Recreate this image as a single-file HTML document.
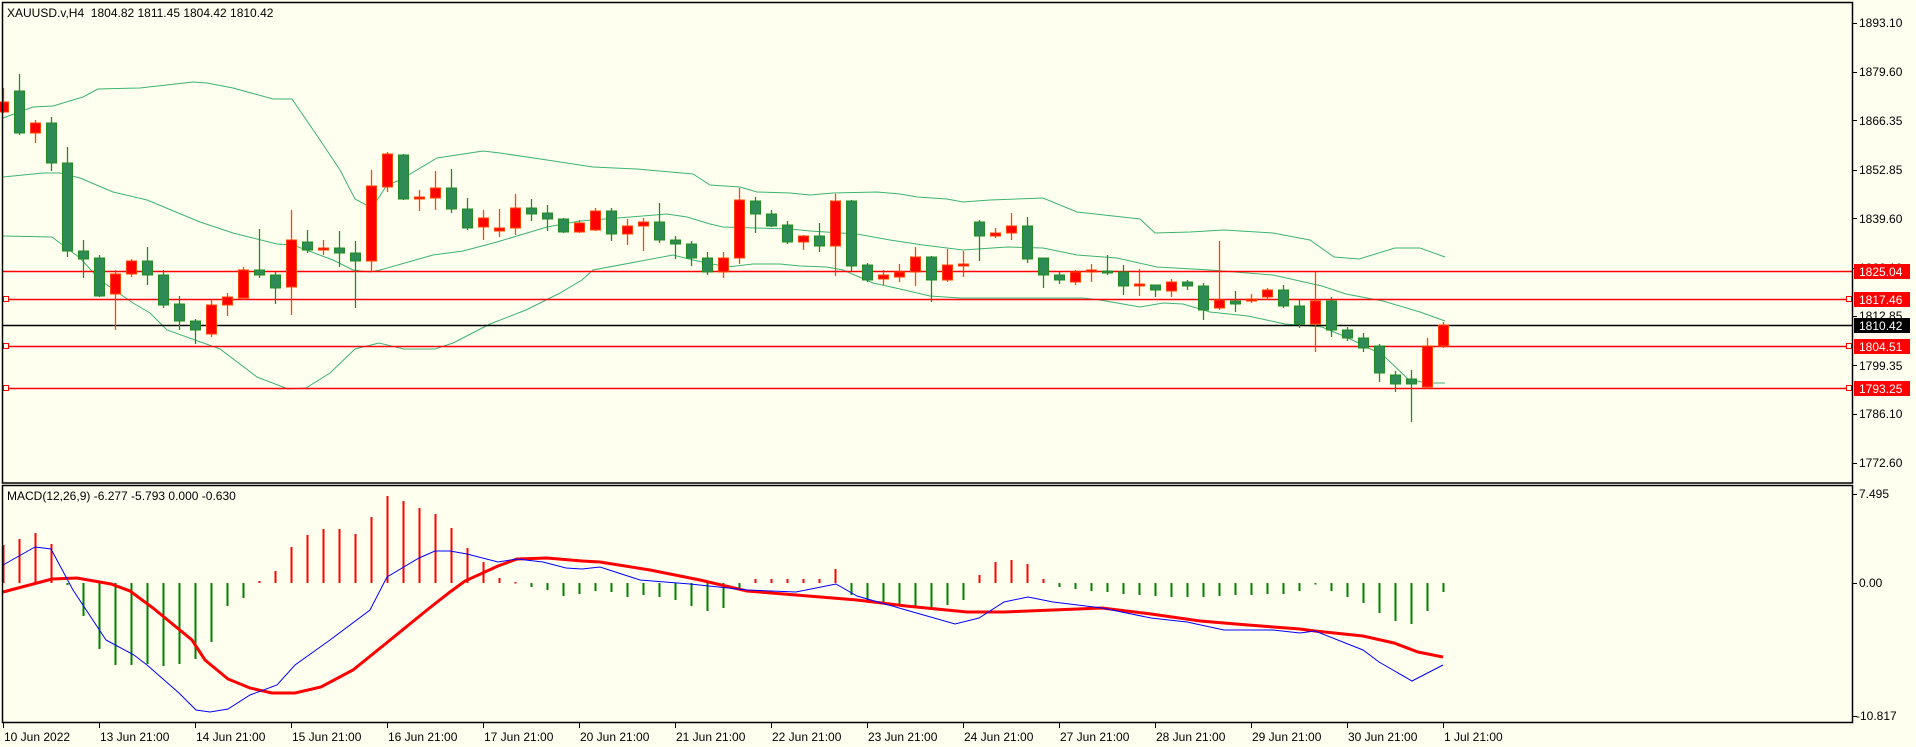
<!DOCTYPE html>
<html><head><meta charset="utf-8"><style>
html,body{margin:0;padding:0;background:#fffff0;}
svg{display:block;font-family:"Liberation Sans",sans-serif;}
</style></head><body>
<svg id="s" width="1916" height="747" viewBox="0 0 1916 747" xmlns="http://www.w3.org/2000/svg">
<rect x="0" y="0" width="1916" height="747" fill="#fffff0"/>
<g id="bands" fill="none" stroke="#3cb371" stroke-width="1"></g>
<g id="hlines"></g>
<g id="candles"></g>
<g id="hist"></g>
<g id="macd" fill="none"></g>
<rect x="2.5" y="2.5" width="1850" height="480.5" fill="none" stroke="#000" stroke-width="1.5"/>
<rect x="2.5" y="485.5" width="1850" height="237" fill="none" stroke="#000" stroke-width="1.5"/>
<g id="ticks" stroke="#000" stroke-width="1"></g>
<g font-size="12" fill="#000">
<text x="7" y="17">XAUUSD.v,H4 &#160;1804.82 1811.45 1804.42 1810.42</text>
<text x="7" y="500">MACD(12,26,9) -6.277 -5.793 0.000 -0.630</text>
<text x="1859" y="27">1893.10</text>
<text x="1859" y="76">1879.60</text>
<text x="1859" y="125">1866.35</text>
<text x="1859" y="174">1852.85</text>
<text x="1859" y="223">1839.60</text>
<text x="1859" y="272">1826.10</text>
<text x="1859" y="320">1812.85</text>
<text x="1859" y="370">1799.35</text>
<text x="1859" y="418">1786.10</text>
<text x="1859" y="467">1772.60</text>
<text x="1859" y="498">7.495</text>
<text x="1859" y="587">0.00</text>
<text x="1856" y="720">-10.817</text>
<text x="4" y="741">10 Jun 2022</text>
<text x="100" y="741">13 Jun 21:00</text>
<text x="196" y="741">14 Jun 21:00</text>
<text x="292" y="741">15 Jun 21:00</text>
<text x="388" y="741">16 Jun 21:00</text>
<text x="484" y="741">17 Jun 21:00</text>
<text x="580" y="741">20 Jun 21:00</text>
<text x="676" y="741">21 Jun 21:00</text>
<text x="772" y="741">22 Jun 21:00</text>
<text x="868" y="741">23 Jun 21:00</text>
<text x="964" y="741">24 Jun 21:00</text>
<text x="1060" y="741">27 Jun 21:00</text>
<text x="1156" y="741">28 Jun 21:00</text>
<text x="1252" y="741">29 Jun 21:00</text>
<text x="1348" y="741">30 Jun 21:00</text>
<text x="1444" y="741">1 Jul 21:00</text>
</g>
<g font-size="12">
<rect x="1854" y="264" width="56" height="15" fill="#ff0000"/><text x="1859" y="276" fill="#fff">1825.04</text>
<rect x="1854" y="292" width="56" height="15" fill="#ff0000"/><text x="1859" y="304" fill="#fff">1817.46</text>
<rect x="1854" y="318" width="56" height="15" fill="#000"/><text x="1859" y="330" fill="#fff">1810.42</text>
<rect x="1854" y="339" width="56" height="15" fill="#ff0000"/><text x="1859" y="351" fill="#fff">1804.51</text>
<rect x="1854" y="381" width="56" height="15" fill="#ff0000"/><text x="1859" y="393" fill="#fff">1793.25</text>
</g>
</svg>
<script>
var NS="http://www.w3.org/2000/svg";
function el(p,t,a){var e=document.createElementNS(NS,t);for(var k in a)e.setAttribute(k,a[k]);document.getElementById(p).appendChild(e);return e;}
var up=[[3,118],[33,107],[53,106],[83,97],[98,89],[140,88],[193,82],[207,83],[233,88],[273,99],[292,99],[320,140],[340,170],[355,199],[372,208],[387,185],[400,180],[437,158],[483,151],[500,153],[547,160],[593,167],[637,169],[693,174],[710,185],[740,187],[757,192],[790,193],[810,195],[833,193],[877,192],[900,194],[917,197],[947,199],[963,202],[990,200],[1043,198],[1077,212],[1140,219],[1155,233],[1190,232],[1224,230],[1273,233],[1310,240],[1334,257],[1359,259],[1395,248],[1420,248],[1445,257]];
var mid=[[3,177],[43,173],[60,173],[80,178],[113,192],[147,200],[200,222],[233,233],[277,244],[293,245],[333,260],[353,270],[370,272],[380,270],[433,255],[463,251],[497,242],[547,227],[580,221],[630,217],[667,214],[687,217],[710,224],[723,227],[790,229],[810,231],[857,234],[890,240],[923,245],[963,250],[1007,247],[1043,248],[1077,255],[1117,258],[1157,267],[1210,270],[1273,275],[1322,286],[1346,294],[1383,301],[1420,312],[1445,321]];
var lo=[[3,236],[52,237],[80,258],[100,280],[133,303],[150,313],[167,330],[220,349],[257,377],[288,389],[306,388],[330,373],[355,349],[379,343],[404,349],[435,349],[453,343],[490,324],[526,310],[560,293],[582,280],[593,270],[673,255],[693,260],[727,267],[753,264],[780,264],[800,266],[827,267],[843,270],[873,283],[900,289],[930,296],[960,298],[1083,298],[1100,300],[1140,307],[1163,303],[1183,304],[1210,312],[1248,316],[1285,324],[1322,327],[1346,337],[1383,355],[1408,379],[1426,383],[1445,383]];
[up,mid,lo].forEach(function(p){el("bands","polyline",{points:p.map(function(q){return q.join(",")}).join(" ")});});
[[271,"#ff0000",0],[299,"#ff0000",1],[346,"#ff0000",1],[388,"#ff0000",1]].forEach(function(h){
 el("hlines","line",{x1:3,x2:1852,y1:h[0]+0.5,y2:h[0]+0.5,stroke:h[1],"stroke-width":1.5});
 if(h[2]){el("hlines","rect",{x:1846.5,y:h[0]-2.5,width:5,height:5,fill:"#fffff0",stroke:"#ff0000"});
 el("hlines","rect",{x:3.5,y:h[0]-2.5,width:5,height:5,fill:"#fffff0",stroke:"#ff0000"});}
});
el("hlines","line",{x1:3,x2:1852,y1:325.5,y2:325.5,stroke:"#000","stroke-width":1.5});
var C=[
"r 102 112 88 113","g 91 133 74 135","r 123 133 120 143","g 123 163 117 171","g 163 251 147 257","g 251 259 240 278","g 258 296 255 297","r 274 294 270 330","r 261 274 259 277","g 261 275 247 285",
"g 275 305 270 308","g 304 321 296 330","g 321 330 319 344","r 305 334 300 337","r 297 305 293 316","r 270 298 267 300","g 270 275 229 278","g 275 288 272 304","r 240 287 210 315","g 242 250 230 253",
"r 248 250 240 255","g 248 253 231 267","g 253 261 241 308","r 186 261 170 272","r 154 187 152 192","g 155 199 154 200","r 197 199 190 211","r 188 198 171 210","g 188 209 169 213","g 209 228 198 230",
"r 218 227 210 240","r 228 231 209 237","r 208 228 194 235","g 208 214 199 221","g 213 219 205 231","g 219 232 218 233","r 223 232 220 233","r 211 230 208 231","g 211 234 208 241","r 226 234 219 245",
"r 222 226 218 251","g 222 240 203 243","g 240 244 236 259","g 244 258 241 266","g 258 272 252 275","r 258 272 252 278","r 200 258 188 264","g 201 214 197 233","g 214 226 210 227","g 225 242 221 244",
"r 236 242 235 250","g 236 246 223 252","r 201 246 194 276","g 201 266 200 271","g 265 280 263 282","r 275 279 270 285","r 272 277 264 282","r 257 272 247 286","g 257 280 256 302","r 265 280 249 282",
"r 264 266 251 277","g 222 236 220 261","r 233 236 228 238","r 226 233 213 240","g 226 259 217 263","g 258 275 258 288","g 275 280 272 284","r 272 282 270 285","r 270 272 264 282","g 271 273 255 275",
"g 272 286 265 295","r 284 286 269 296","g 285 290 285 297","r 282 291 279 297","g 282 286 280 290","g 286 310 283 320","r 300 308 241 310","g 301 304 291 312","r 299 301 294 303","r 290 297 288 300",
"g 290 306 285 308","g 306 324 300 328","r 301 324 272 352","g 301 330 297 337","g 330 338 327 341","g 338 348 333 352","g 346 373 344 382","g 375 384 371 392","g 379 384 370 422","r 346 387 338 389",
"r 325 346 322 348"];
C.forEach(function(s,k){var a=s.split(" "),x=3.5+16*k,r=a[0]=="r";
 var t=+a[1],b=+a[2],h=+a[3],l=+a[4];var sc=r?"#ff4500":"#228b22",fc=r?"#ff0000":"#2e8b57";
 el("candles","line",{x1:x,x2:x,y1:h,y2:l,stroke:sc,"stroke-width":1.3});
 if(b-t<2){b=t+2;}
 el("candles","rect",{x:x-5,y:t,width:10,height:b-t,fill:fc,stroke:sc,"stroke-width":1});
});
var H=[545,539,533,544,585,616,649,665,665,664,666,664,659,642,606,598,581,571,547,535,529,529,534,517,496,501,508,514,528,548,562,578,582,587,590,596,594,591,592,597,595,597,600,606,611,608,590,579,579,579,579,579,569,595,600,604,606,608,607,605,600,575,562,560,564,579,587,589,591,592,594,595,596,597,597,597,596,595,595,594,594,591,584,591,597,603,613,621,624,611,592];
H.forEach(function(v,k){var x=3.5+16*k;var neg=v>583;
 el("hist","rect",{x:x-1,y:Math.min(v,583),width:2,height:Math.max(1.5,Math.abs(v-583)),fill:neg?"#008000":"#ff0000"});});
var blue=[[3,565],[35,547],[51,549],[73,590],[106,640],[134,655],[147,665],[179,693],[196,710],[210,712],[228,709],[250,695],[277,685],[295,665],[330,640],[370,610],[387,577],[419,558],[435,551],[450,551],[467,554],[498,562],[517,559],[543,562],[566,568],[582,569],[600,567],[640,580],[690,584],[747,590],[796,592],[836,584],[857,596],[906,610],[955,624],[979,618],[1004,602],[1028,597],[1053,602],[1102,608],[1151,618],[1187,622],[1224,630],[1273,630],[1300,633],[1315,631],[1363,650],[1379,662],[1412,681],[1443,665]];
var red=[[3,592],[52,579],[77,578],[111,584],[130,591],[153,608],[192,640],[205,660],[228,679],[250,688],[272,693],[295,693],[321,687],[353,670],[384,645],[427,610],[450,592],[465,581],[498,566],[517,559],[547,558],[582,561],[600,562],[650,570],[700,580],[747,591],[796,595],[857,600],[906,606],[967,612],[1004,612],[1053,610],[1102,608],[1151,614],[1200,621],[1248,625],[1300,629],[1315,631],[1363,636],[1394,643],[1418,652],[1443,657]];
el("macd","polyline",{points:red.map(function(q){return q.join(",")}).join(" "),stroke:"#ff0000","stroke-width":3});
el("macd","polyline",{points:blue.map(function(q){return q.join(",")}).join(" "),stroke:"#0000ff","stroke-width":1});
[23,72,120,170,218,268,316,365,414,463,494,583,716].forEach(function(y){el("ticks","line",{x1:1852,x2:1857,y1:y+0.5,y2:y+0.5});});
for(var i=0;i<16;i++){var x=(i==0?3.5:99.5+96*(i-1));el("ticks","line",{x1:x,x2:x,y1:723,y2:728});}
</script>
</body></html>
